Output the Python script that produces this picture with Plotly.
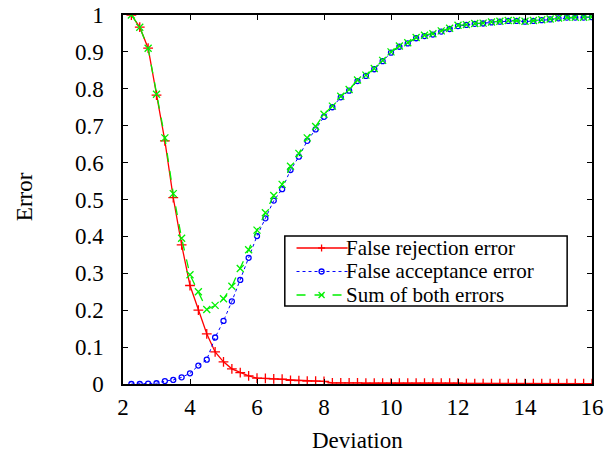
import plotly.graph_objects as go

deviation = [2.25, 2.5, 2.75, 3.0, 3.25, 3.5, 3.75, 4.0, 4.25, 4.5, 4.75, 5.0,
             5.25, 5.5, 5.75, 6.0, 6.25, 6.5, 6.75, 7.0, 7.25, 7.5, 7.75, 8.0,
             8.25, 8.5, 8.75, 9.0, 9.25, 9.5, 9.75, 10.0, 10.25, 10.5, 10.75, 11.0,
             11.25, 11.5, 11.75, 12.0, 12.25, 12.5, 12.75, 13.0, 13.25, 13.5, 13.75, 14.0,
             14.25, 14.5, 14.75, 15.0, 15.25, 15.5, 15.75, 16.0]

false_rejection = [1.0, 0.967, 0.91, 0.783, 0.659, 0.505, 0.377, 0.267, 0.200, 0.136, 0.087, 0.060,
                   0.041, 0.031, 0.022, 0.016, 0.015, 0.014, 0.013, 0.010, 0.009, 0.008, 0.008, 0.007,
                   0.003, 0.003, 0.003, 0.003, 0.002, 0.002, 0.002, 0.002, 0.002, 0.002, 0.002, 0.002,
                   0.002, 0.002, 0.002, 0.002, 0.001, 0.001, 0.001, 0.001, 0.001, 0.001, 0.001, 0.001,
                   0.001, 0.001, 0.001, 0.001, 0.001, 0.001, 0.001, 0.001]

false_acceptance = [0.0, 0.0, 0.001, 0.002, 0.008, 0.011, 0.018, 0.029, 0.050, 0.066, 0.126, 0.171,
                    0.224, 0.282, 0.342, 0.401, 0.449, 0.497, 0.528, 0.580, 0.616, 0.659, 0.690, 0.724,
                    0.750, 0.777, 0.795, 0.821, 0.835, 0.853, 0.875, 0.898, 0.914, 0.923, 0.937, 0.943,
                    0.947, 0.955, 0.962, 0.970, 0.973, 0.976, 0.977, 0.980, 0.982, 0.984, 0.984, 0.982,
                    0.984, 0.986, 0.988, 0.991, 0.993, 0.993, 0.993, 0.994]

sum_errors = [1.0, 0.967, 0.91, 0.785, 0.667, 0.516, 0.395, 0.296, 0.250, 0.202, 0.213, 0.231,
              0.265, 0.313, 0.364, 0.417, 0.464, 0.511, 0.541, 0.590, 0.625, 0.667, 0.698, 0.731,
              0.753, 0.780, 0.798, 0.824, 0.837, 0.855, 0.877, 0.900, 0.916, 0.925, 0.939, 0.945,
              0.949, 0.957, 0.964, 0.972, 0.974, 0.977, 0.978, 0.981, 0.983, 0.985, 0.985, 0.983,
              0.985, 0.987, 0.989, 0.992, 0.994, 0.994, 0.994, 0.995]

series_names = ["False rejection error", "False acceptance error", "Sum of both errors"]
x_title = "Deviation"
y_title = "Error"

FONT = "Liberation Serif, Times New Roman, serif"
RED, BLUE, GREEN = "#ff0000", "#0000ff", "#00f000"

fig = go.Figure()
fig.add_trace(go.Scatter(
    x=deviation, y=false_rejection, mode="lines+markers", name=series_names[0],
    line=dict(color=RED, width=1.3),
    marker=dict(symbol="cross-thin", size=7, color=RED, line=dict(color=RED, width=1.3)),
))
fig.add_trace(go.Scatter(
    x=deviation, y=false_acceptance, mode="lines+markers", name=series_names[1],
    line=dict(color=BLUE, width=1.0, dash="dot"),
    marker=dict(symbol="circle-open", size=5, color=BLUE, line=dict(color=BLUE, width=1.3)),
))
fig.add_trace(go.Scatter(
    x=deviation, y=sum_errors, mode="lines+markers", name=series_names[2],
    line=dict(color=GREEN, width=1.3, dash="dash"),
    marker=dict(symbol="x-thin", size=7, color=GREEN, line=dict(color=GREEN, width=1.3)),
))

# ---- manual legend (gnuplot-like key) ----
shapes = [dict(type="rect", xref="paper", yref="paper", x0=0.345, x1=0.947, y0=0.2114, y1=0.4011,
               line=dict(color="black", width=1.5), fillcolor="white", layer="above")]
annotations = []
rows_y = [0.3686, 0.3049, 0.2412]
dashes = ["solid", "dot", "dash"]
colors = [RED, BLUE, GREEN]
line_x0, line_x1, mark_x, text_x = 0.370, 0.479, 0.4234, 0.474
for i, (ry, col, dsh) in enumerate(zip(rows_y, colors, dashes)):
    shapes.append(dict(type="line", xref="paper", yref="paper", x0=line_x0, x1=line_x1, y0=ry, y1=ry,
                       line=dict(color=col, width=1.3 if i != 1 else 1.0, dash=dsh), layer="above"))
    common = dict(xref="paper", yref="paper", xsizemode="pixel", ysizemode="pixel",
                  xanchor=mark_x, yanchor=ry, layer="above", line=dict(color=col, width=1.3))
    if i == 0:
        shapes.append(dict(type="line", x0=-3.5, x1=3.5, y0=0, y1=0, **common))
        shapes.append(dict(type="line", x0=0, x1=0, y0=-3.5, y1=3.5, **common))
    elif i == 1:
        shapes.append(dict(type="circle", x0=-2.5, x1=2.5, y0=-2.5, y1=2.5, **common))
    else:
        shapes.append(dict(type="line", x0=-3, x1=3, y0=-3, y1=3, **common))
        shapes.append(dict(type="line", x0=-3, x1=3, y0=3, y1=-3, **common))
    annotations.append(dict(xref="paper", yref="paper", x=text_x, y=ry, xanchor="left", yanchor="middle",
                            text=series_names[i], showarrow=False, borderpad=0,
                            font=dict(family=FONT, size=21, color="black")))

# axis titles
annotations.append(dict(xref="paper", yref="paper", x=0.5, y=-0.152, text=x_title, showarrow=False,
                        xanchor="center", yanchor="middle", font=dict(family=FONT, size=23, color="black")))
annotations.append(dict(xref="paper", yref="paper", x=-0.2085, y=0.507, text=y_title, showarrow=False,
                        textangle=-90, xanchor="center", yanchor="middle",
                        font=dict(family=FONT, size=23, color="black")))

axis_common = dict(
    showline=True, linecolor="black", linewidth=1.5, mirror="ticks",
    ticks="inside", ticklen=5, tickwidth=1, tickcolor="black",
    showgrid=False, zeroline=False, automargin=False, ticklabeloverflow="allow",
    tickfont=dict(family=FONT, size=23, color="black"),
)

fig.update_layout(
    width=604, height=454,
    margin=dict(l=123, r=12, t=15, b=70, autoexpand=False),
    paper_bgcolor="white", plot_bgcolor="white",
    font=dict(family=FONT, size=23, color="black"),
    xaxis=dict(range=[2, 16], dtick=2, tick0=2, ticklabelstandoff=2, **axis_common),
    yaxis=dict(range=[0, 1], dtick=0.1, tick0=0, ticklabelstandoff=13, **axis_common),
    showlegend=False,
    shapes=shapes,
    annotations=annotations,
)

fig.write_html("out.html", config={"displayModeBar": False},
               post_script="document.body.style.margin='0';document.body.style.overflow='hidden';")
